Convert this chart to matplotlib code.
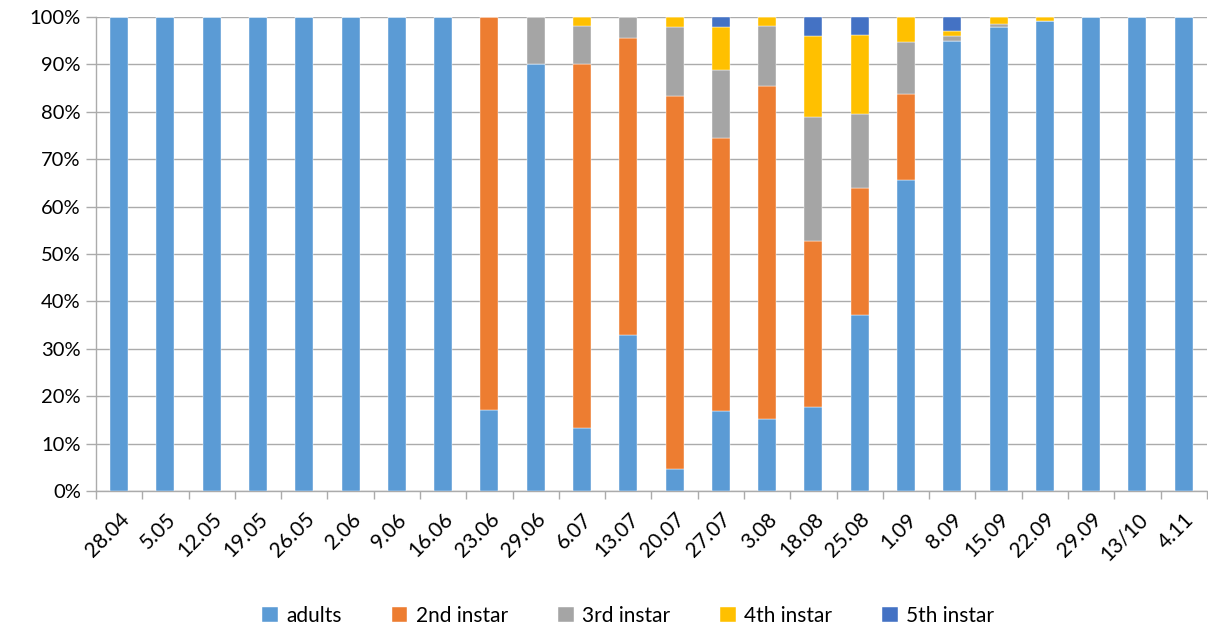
import numpy as np
import matplotlib.pyplot as plt
from matplotlib.ticker import PercentFormatter, FixedLocator

plt.rcParams['font.family'] = ['Lato', 'DejaVu Sans']

# sampling dates and stage composition (% of individuals)
dates = ['28.04', '5.05', '12.05', '19.05', '26.05', '2.06', '9.06', '16.06',
         '23.06', '29.06', '6.07', '13.07', '20.07', '27.07', '3.08', '18.08',
         '25.08', '1.09', '8.09', '15.09', '22.09', '29.09', '13/10', '4.11']
adults = [100, 100, 100, 100, 100, 100, 100, 100,
          17.0, 90.0, 13.4, 33.0, 4.6, 16.8, 15.3, 17.7,
          37.2, 65.7, 95.0, 98.0, 99.2, 100, 100, 100]
instar2 = [0, 0, 0, 0, 0, 0, 0, 0,
           83.0, 0, 76.8, 62.5, 78.7, 57.6, 70.2, 35.0,
           26.8, 18.0, 0, 0, 0, 0, 0, 0]
instar3 = [0, 0, 0, 0, 0, 0, 0, 0,
           0, 10.0, 8.0, 4.5, 14.7, 14.5, 12.7, 26.2,
           15.6, 11.1, 1.0, 0.6, 0, 0, 0, 0]
instar4 = [0, 0, 0, 0, 0, 0, 0, 0,
           0, 0, 1.8, 0, 2.0, 8.9, 1.8, 17.1,
           16.6, 5.2, 1.1, 1.4, 0.8, 0, 0, 0]
instar5 = [0, 0, 0, 0, 0, 0, 0, 0,
           0, 0, 0, 0, 0, 2.2, 0, 4.0,
           3.8, 0, 2.9, 0, 0, 0, 0, 0]

series = [
    ('adults', adults, '#5B9BD5'),
    ('2nd instar', instar2, '#ED7D31'),
    ('3rd instar', instar3, '#A5A5A5'),
    ('4th instar', instar4, '#FFC000'),
    ('5th instar', instar5, '#4472C4'),
]

fig = plt.figure(figsize=(12.08, 6.32), dpi=100)
ax = fig.add_axes([0.0795, 0.223, 0.9195, 0.75])

x = np.arange(len(dates))
bottom = np.zeros(len(dates))
for name, vals, col in series:
    vals = np.array(vals, dtype=float)
    ax.bar(x, vals, width=0.39, bottom=bottom, color=col, label=name,
           edgecolor='white', linewidth=0.3, zorder=3)
    bottom += vals

ax.set_xlim(-0.5, len(dates) - 0.5)
ax.set_ylim(0, 100)
ax.set_yticks(np.arange(0, 101, 10))
ax.yaxis.set_major_formatter(PercentFormatter(decimals=0))
ax.grid(axis='y', color='#ABABAB', linewidth=1.0, zorder=0)

ax.set_xticks(x)
ax.set_xticklabels(dates, rotation=45, ha='right', rotation_mode='anchor')
ax.xaxis.set_minor_locator(FixedLocator(np.arange(-0.5, len(dates), 1)))
ax.tick_params(axis='x', which='major', length=0, pad=13, labelsize=15)
ax.tick_params(axis='x', which='minor', length=6, color='#ABABAB', width=1)
ax.tick_params(axis='y', length=7, color='#ABABAB', width=1, labelsize=14.5, pad=4)

for s in ['top', 'right']:
    ax.spines[s].set_visible(False)
for s in ['left', 'bottom']:
    ax.spines[s].set_color('#ABABAB')
    ax.spines[s].set_linewidth(1)

fig.legend(loc='lower center', bbox_to_anchor=(0.52, -0.02), ncol=5, frameon=False,
           fontsize=15, handlelength=0.75, handleheight=0.75, handletextpad=0.4,
           columnspacing=2.4)

fig.savefig('out.png', dpi=100)
